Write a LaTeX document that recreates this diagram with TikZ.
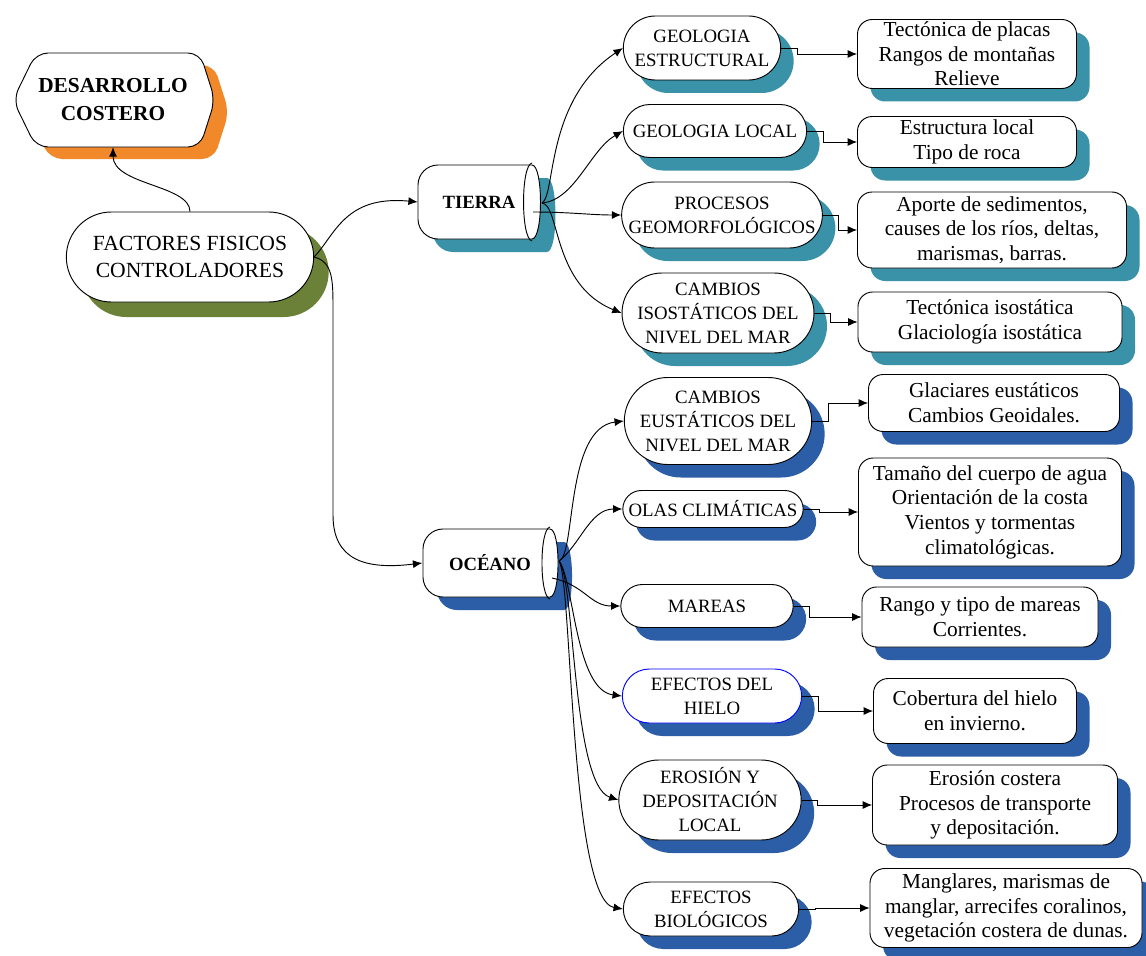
\documentclass[tikz,border=0pt]{standalone}
\usepackage{fontspec}
\setmainfont{Liberation Serif}
\usetikzlibrary{shapes.misc,shadows,arrows.meta}

\definecolor{tealc}{RGB}{57,146,168}
\definecolor{bluec}{RGB}{43,94,166}
\definecolor{orangec}{RGB}{241,136,42}
\definecolor{olivec}{RGB}{107,129,55}

\tikzset{
  sz/.style 2 args={minimum width=#1*0.75pt, minimum height=#2*0.75pt},
  pill/.style={rounded rectangle, draw=black, fill=white, line width=0.7pt,
    align=center, inner sep=1pt, font=\fontsize{14.1}{18}\selectfont},
  leaf/.style={rectangle, rounded corners=11pt, draw=black, fill=white, line width=0.7pt,
    align=center, inner sep=1pt, font=\fontsize{16}{18.5}\selectfont},
  tsh/.style={drop shadow={shadow xshift=9.75pt, shadow yshift=-9.75pt, fill=tealc, opacity=1}},
  bsh/.style={drop shadow={shadow xshift=9.75pt, shadow yshift=-9.75pt, fill=bluec, opacity=1}},
  link/.style={-{Latex[length=7pt,width=6pt]}, line width=0.7pt},
  elbow/.style={link, to path={-- ++(16,0) |- (\tikztotarget)}},
}

\begin{document}
\begin{tikzpicture}[x=0.75pt, y=-0.75pt]
\useasboundingbox (0,0) rectangle (1146,956);

% ---- DESARROLLO COSTERO (hexagon) ----
\fill[orangec, rounded corners=9pt, shift={(14,12)}]
  (118,53) -- (200,53) -- (215,100) -- (200,147) -- (36,147) -- (13,100) -- (36,53) -- cycle;
\draw[fill=white, line width=0.7pt, rounded corners=9pt]
  (118,53) -- (200,53) -- (215,100) -- (200,147) -- (36,147) -- (13,100) -- (36,53) -- cycle;
\node[sz={202}{94}, align=center, font=\fontsize{16}{21}\selectfont\bfseries] (hex) at (113,100)
  {DESARROLLO\\COSTERO};

% ---- FACTORES FISICOS CONTROLADORES ----
\node[pill, sz={250}{90}, font=\fontsize{16.2}{20.25}\selectfont,
  drop shadow={shadow xshift=11.25pt, shadow yshift=-11.25pt, fill=olivec, opacity=1}]
  (fac) at (190,257) {FACTORES FISICOS\\CONTROLADORES};

% ---- TIERRA (horizontal can) ----
\fill[tealc, shift={(15,13)}]
  (532,165) -- (438,165) .. controls (427,165) and (418,174) .. (418,185)
  -- (418,219) .. controls (418,230) and (427,239) .. (438,239)
  -- (532,239) .. controls (543.3,239) and (543.3,165) .. (532,165) -- cycle;
\draw[fill=white, line width=0.7pt]
  (532,165) -- (438,165) .. controls (427,165) and (418,174) .. (418,185)
  -- (418,219) .. controls (418,230) and (427,239) .. (438,239)
  -- (532,239) .. controls (543.3,239) and (543.3,165) .. (532,165) -- cycle;
\draw[line width=0.7pt] (532,163) .. controls (520.7,165) and (520.7,239) .. (532,241);
\node[sz={122}{74}, font=\fontsize{14}{17}\selectfont\bfseries] (tierra) at (479,202) {TIERRA};

% ---- OCÉANO (horizontal can) ----
\fill[bluec, shift={(14,13)}]
  (550,529) -- (443,529) .. controls (432,529) and (423,538) .. (423,549)
  -- (423,577) .. controls (423,588) and (432,597) .. (443,597)
  -- (550,597) .. controls (560.7,597) and (560.7,529) .. (550,529) -- cycle;
\draw[fill=white, line width=0.7pt]
  (550,529) -- (443,529) .. controls (432,529) and (423,538) .. (423,549)
  -- (423,577) .. controls (423,588) and (432,597) .. (443,597)
  -- (550,597) .. controls (560.7,597) and (560.7,529) .. (550,529) -- cycle;
\draw[line width=0.7pt] (550,527) .. controls (539.3,529) and (539.3,597) .. (550,599);
\node[sz={135}{68}, font=\fontsize{14}{17}\selectfont\bfseries] (oce) at (490,563) {OCÉANO};

% ---- land factors ----
\node[pill, tsh, sz={160}{64}] (g1) at (702,48)  {GEOLOGIA\\ESTRUCTURAL};
\node[pill, tsh, sz={186}{53}] (g2) at (715,131) {GEOLOGIA LOCAL};
\node[pill, tsh, sz={200}{66}] (g3) at (722,215) {PROCESOS\\GEOMORFOLÓGICOS};
\node[pill, tsh, sz={190}{80}] (g4) at (718,313) {CAMBIOS\\ISOSTÁTICOS DEL\\NIVEL DEL MAR};

% ---- ocean factors ----
\node[pill, bsh, sz={190}{87}] (o1) at (718,421) {CAMBIOS\\EUSTÁTICOS DEL\\NIVEL DEL MAR};
\node[pill, bsh, sz={183}{37}] (o2) at (713,509) {OLAS CLIMÁTICAS};
\node[pill, bsh, sz={175}{43}] (o3) at (707,606) {MAREAS};
\node[pill, bsh, sz={182}{54}, draw=blue] (o4) at (712,696) {EFECTOS DEL\\HIELO};
\node[pill, bsh, sz={185}{80}] (o5) at (710,800) {EROSIÓN Y\\DEPOSITACIÓN\\LOCAL};
\node[pill, bsh, sz={178}{54}] (o6) at (711,909) {EFECTOS\\BIOLÓGICOS};

% ---- details ----
\node[leaf, tsh, sz={219}{69}]  (l1) at (967,54)  {Tectónica de placas\\Rangos de montañas\\Relieve};
\node[leaf, tsh, sz={219}{51}]  (l2) at (967,142) {Estructura local\\Tipo de roca};
\node[leaf, tsh, sz={269}{76}]  (l3) at (992,230) {Aporte de sedimentos,\\causes de los ríos, deltas,\\marismas, barras.};
\node[leaf, tsh, sz={264}{60}]  (l4) at (990,322) {Tectónica isostática\\Glaciología isostática};
\node[leaf, bsh, sz={251}{57}]  (l5) at (994,403) {Glaciares eustáticos\\Cambios Geoidales.};
\node[leaf, bsh, sz={263}{108}] (l6) at (990,512) {Tamaño del cuerpo de agua\\Orientación de la costa\\Vientos y tormentas\\climatológicas.};
\node[leaf, bsh, sz={236}{60}]  (l7) at (980,617) {Rango y tipo de mareas\\Corrientes.};
\node[leaf, bsh, sz={203}{65}]  (l8) at (975,711) {Cobertura del hielo\\en invierno.};
\node[leaf, bsh, sz={245}{80}]  (l9) at (995,805) {Erosión costera\\Procesos de transporte\\y depositación.};
\node[leaf, bsh, sz={272}{79}]  (l10) at (1006,908) {Manglares, marismas de\\manglar, arrecifes coralinos,\\vegetación costera de dunas.};

% ---- connectors from the root ----
\draw[link] (fac.north) .. controls (190,185) and (113,185) .. (hex.south);
\draw[link] (fac.east) .. controls (335,235) and (345,195) .. (tierra.west);
\draw[link] (fac.east) .. controls (333,262) and (333,280) .. (333,310)
  -- (333,515) .. controls (333,560) and (365,570) .. (oce.west);

% ---- TIERRA branches ----
\coordinate (ts) at (542,203);
\coordinate (tp) at (533,212);
\draw[link] (ts) .. controls (556,195) and (545,100) .. (g1.west);
\draw[link] (ts) .. controls (575,200) and (590,150) .. (g2.west);
\draw[link] (tp) .. controls (570,212) and (590,215) .. (g3.west);
\draw[link] (ts) .. controls (560,205) and (552,285) .. (g4.west);

% ---- OCÉANO branches ----
\coordinate (os) at (559,561);
\coordinate (op) at (552,578);
\draw[link] (os) .. controls (576,555) and (565,428) .. (o1.west);
\draw[link] (os) .. controls (580,545) and (590,509) .. (o2.west);
\draw[link] (op) .. controls (585,585) and (590,606) .. (o3.west);
\draw[link] (os) .. controls (574,580) and (575,690) .. (o4.west);
\draw[link] (os) .. controls (575,580) and (572,785) .. (o5.west);
\draw[link] (os) .. controls (572,580) and (570,900) .. (o6.west);

% ---- factor to detail ----
\draw[elbow] (g1.east) to (l1.west);
\draw[elbow] (g2.east) to (l2.west);
\draw[elbow] (g3.east) to (l3.west);
\draw[elbow] (g4.east) to (l4.west);
\draw[elbow] (o1.east) to (l5.west);
\draw[elbow] (o2.east) to (l6.west);
\draw[elbow] (o3.east) to (l7.west);
\draw[elbow] (o4.east) to (l8.west);
\draw[elbow] (o5.east) to (l9.west);
\draw[elbow] (o6.east) to (l10.west);
\end{tikzpicture}
\end{document}
